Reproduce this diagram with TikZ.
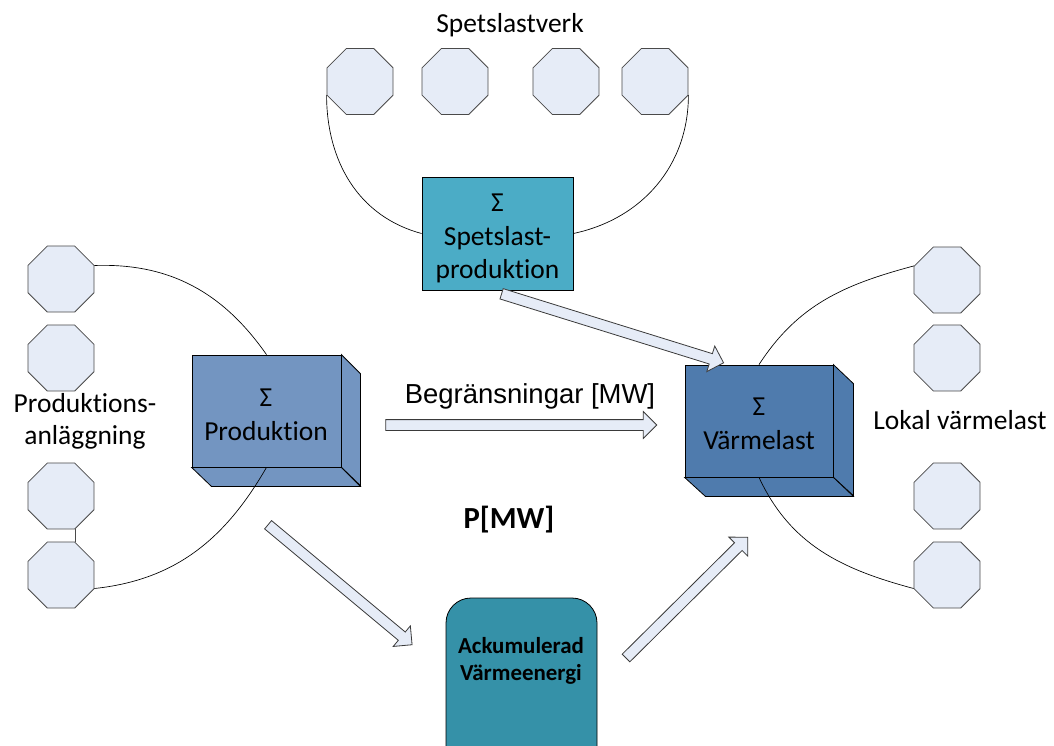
\documentclass[tikz,border=0pt]{standalone}
\usepackage{fontspec}
\setmainfont{Carlito}[Ligatures=NoCommon]
\newfontfamily\arialfont{Liberation Sans}
\usetikzlibrary{shapes.geometric,shapes.arrows,calc}

\definecolor{octfill}{HTML}{E6ECF7}
\definecolor{octline}{HTML}{4A4A4A}
\definecolor{prodblue}{HTML}{7395C1}
\definecolor{loadblue}{HTML}{4F7BAD}
\definecolor{peakteal}{HTML}{4BACC6}
\definecolor{storeteal}{HTML}{3591A8}
\definecolor{arrowfill}{HTML}{E6ECF7}
\definecolor{arrowline}{HTML}{3A3A3A}

% block arrow from one named point to another
\newcommand\blockarrow[2]{%
  \path let \p1=($(#2)-(#1)$), \n1={veclen(\x1,\y1)}, \n2={atan2(\y1,\x1)} in
    node[barrow, minimum height=\n1, rotate=\n2] at ($(#1)!0.5!(#2)$) {};}

\begin{document}
\begin{tikzpicture}[x=0.75pt,y=-0.75pt,
  oct/.style={regular polygon, regular polygon sides=8, draw=octline, fill=octfill,
    minimum size=53.6pt, inner sep=0pt, line width=0.6pt},
  link/.style={draw=black, line width=0.5pt},
  sumbox/.style={draw=black, line width=0.6pt, inner sep=0pt},
  face/.style={draw=black, line width=0.6pt},
  lbl/.style={inner sep=0pt, align=center, font=\fontsize{20.6}{24}\selectfont},
  sumtext/.style={inner sep=0pt, align=center, font=\fontsize{20.6}{25.5}\selectfont},
  barrow/.style={single arrow, draw=arrowline, fill=arrowfill, line width=0.6pt,
    inner xsep=0pt, inner ysep=3.75pt, single arrow head extend=6pt,
    single arrow tip angle=90}]

\useasboundingbox (0,0) rectangle (1054,746);
\clip (0,0) rectangle (1054,746);

% peak load plants
\node[oct] (t1) at (360,81.5) {};
\node[oct] (t2) at (455,81.5) {};
\node[oct] (t3) at (566,81.5) {};
\node[oct] (t4) at (655,81.5) {};
\node[lbl] (tlabel) at (510,25) {Spetslastverk};

% production plants
\node[oct] (l1) at (61,279) {};
\node[oct] (l2) at (61,358) {};
\node[oct] (l3) at (61,496) {};
\node[oct] (l4) at (61,575) {};
\draw[draw=octline, line width=0.8pt] (l3.-67.5) -- (l4.67.5);
\node[lbl] (llabel) at (85,421) {Produktions-\\anläggning};

% local loads
\node[oct] (r1) at (947,280) {};
\node[oct] (r2) at (947,358) {};
\node[oct] (r3) at (947,496) {};
\node[oct] (r4) at (947,575) {};
\node[lbl] (rlabel) at (960,420) {Lokal värmelast};

% peak load production
\node[sumbox, fill=peakteal, minimum width=113.25pt, minimum height=84.75pt]
  (peak) at (497.5,233.5) {};
\node[sumtext, font=\fontsize{20.6}{25.1}\selectfont] (peaktext) at (497.5,238.5)
  {Σ\\Spetslast-\\produktion};

% total production (box with depth)
\node[sumbox, fill=prodblue, minimum width=111.75pt, minimum height=84pt]
  (prod) at (266.5,411) {};
\draw[face, fill=prodblue] (prod.north east) -- ++(19,19) -- ++(0,112) -- (prod.south east) -- cycle;
\draw[face, fill=prodblue] (prod.south west) -- (prod.south east) -- ++(19,19) -- ++(-149,0) -- cycle;
\node[sumtext] (prodtext) at (266,415) {Σ\\Produktion};

% total heat load (box with depth)
\node[sumbox, fill=loadblue, minimum width=111pt, minimum height=84pt]
  (load) at (759,421) {};
\draw[face, fill=loadblue] (load.north east) -- ++(20,19) -- ++(0,112) -- (load.south east) -- cycle;
\draw[face, fill=loadblue] (load.south west) -- (load.south east) -- ++(20,19) -- ++(-148,0) -- cycle;
\node[sumtext] (loadtext) at (759,423.5) {Σ\\Värmelast};

% accumulated heat storage
\node[draw=black, line width=0.6pt, fill=storeteal, rounded corners=18.75pt,
  minimum width=113.25pt, minimum height=136.5pt, inner sep=0pt] (store) at (521.5,689) {};
\node[inner sep=0pt, align=center, font=\bfseries\fontsize{17.2}{20}\selectfont]
  (storetext) at (521,661) {Ackumulerad\\Värmeenergi};

% connections
\draw[link] (t1.202.5) to[out=-90, in=165] (peak.west);
\draw[link] (t4.-22.5) to[out=-90, in=12] (peak.east);
\draw[link] (l1.22.5) to[out=2, in=125] (prod.north);
\draw[link] (l4.-22.5) to[out=6, in=-120] (prod.south);
\draw[link] (load.north) to[out=57, in=195] (r1.157.5);
\draw[link] (load.south) to[out=-65, in=165] (r4.202.5);

% flows
\coordinate (a1s) at (499,293);
\coordinate (a1e) at (721,362);
\coordinate (a2s) at (383,425);
\coordinate (a2e) at (654,425);
\coordinate (a3s) at (266,523);
\coordinate (a3e) at (410,643);
\coordinate (a4s) at (624,660);
\coordinate (a4e) at (746,539);
\blockarrow{a1s}{a1e}
\blockarrow{a2s}{a2e}
\blockarrow{a3s}{a3e}
\blockarrow{a4s}{a4e}

\node[inner sep=0pt, font=\arialfont\fontsize{20.6}{24}\selectfont] (limits) at (530,396) {Begränsningar [MW]};
\node[inner sep=0pt, font=\bfseries\fontsize{23}{26}\selectfont] (power) at (509,520) {P[MW]};

\end{tikzpicture}
\end{document}
